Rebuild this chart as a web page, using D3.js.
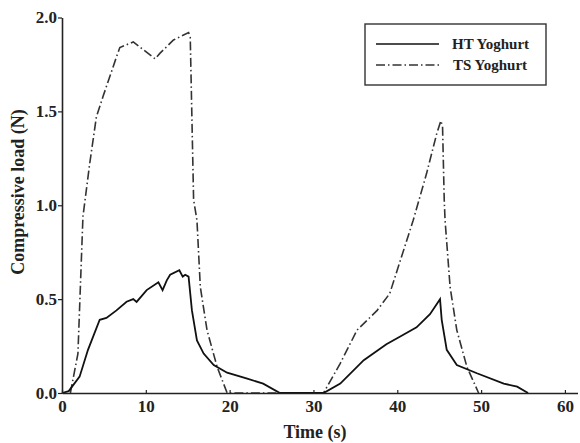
<!DOCTYPE html>
<html>
<head>
<meta charset="utf-8">
<script src="https://cdn.jsdelivr.net/npm/d3@7"></script>
<style>
  body { margin: 0; background: #fff; }
  svg { font-family: "Liberation Serif", "DejaVu Serif", serif; font-weight: bold; }
</style>
</head>
<body>
<div id="chart"></div>
<script>
// time (s) and load (N)
var htTime = [0, 0.8, 2.1, 3.1, 4.5, 5.3, 6.5, 7.7, 8.5, 8.9, 10.1, 11.5, 12.0, 12.5, 12.9, 14.0, 14.4, 14.7, 15.1,
    15.5, 16.1, 16.9, 18.1, 19.7, 22.0, 24.0, 26.0, 31.2, 33.2, 36.0, 38.7, 40.3, 42.3, 43.9, 45.1,
    45.3, 45.9, 47.1, 49.5, 52.7, 54.3, 55.6];
var htLoad = [0, 0.01, 0.087, 0.23, 0.39, 0.40, 0.44, 0.486, 0.50, 0.485, 0.548, 0.59, 0.548, 0.60, 0.63, 0.654, 0.62, 0.63, 0.62,
    0.44, 0.28, 0.21, 0.149, 0.108, 0.078, 0.05, 0, 0, 0.05, 0.175, 0.26, 0.30, 0.35, 0.42, 0.50,
    0.39, 0.23, 0.149, 0.105, 0.05, 0.034, 0];

var tsTime = [1.0, 1.9, 2.5, 3.3, 4.1, 4.9, 6.5, 6.9, 8.5, 11.1, 11.7, 13.3, 15.1, 15.3, 15.7, 16.1, 16.5, 17.3, 18.5, 19.7,
    31.2, 33.2, 35.2, 37.6, 39.1, 41.9, 43.5, 44.7, 45.2, 45.4, 45.6, 45.7, 46.3, 47.1, 48.3, 49.7];
var tsLoad = [0, 0.21, 0.94, 1.22, 1.47, 1.58, 1.79, 1.84, 1.87, 1.78, 1.81, 1.88, 1.92, 1.895, 1.03, 0.92, 0.565, 0.335, 0.14, 0,
    0, 0.158, 0.335, 0.44, 0.53, 0.92, 1.17, 1.38, 1.45, 1.42, 1.03, 0.92, 0.565, 0.335, 0.14, 0];

var xTicks = [0, 10, 20, 30, 40, 50, 60];
var yTicks = [0, 0.5, 1.0, 1.5, 2.0];
var seriesNames = ["HT Yoghurt", "TS Yoghurt"];

var width = 580, height = 443;
var svg = d3.select("#chart").append("svg")
    .attr("width", width)
    .attr("height", height);

var x = d3.scaleLinear().domain([0, 61.5]).range([62, 577.5]);
var y = d3.scaleLinear().domain([0, 2]).range([393, 17.5]);

var ht = htTime.map(function(t, i) { return [t, htLoad[i]]; });
var ts = tsTime.map(function(t, i) { return [t, tsLoad[i]]; });

var line = d3.line()
    .x(function(d) { return x(d[0]); })
    .y(function(d) { return y(d[1]); });

// curves
svg.append("path")
    .datum(ts)
    .attr("d", line)
    .attr("fill", "none")
    .attr("stroke", "#333")
    .attr("stroke-width", 1.6)
    .attr("stroke-dasharray", "9,3,1.5,3");

svg.append("path")
    .datum(ht)
    .attr("d", line)
    .attr("fill", "none")
    .attr("stroke", "#111")
    .attr("stroke-width", 1.8);

// axes
var xAxis = d3.axisBottom(x).tickValues(xTicks).tickSizeInner(-3).tickSizeOuter(0).tickPadding(7);
var yAxis = d3.axisLeft(y).tickValues(yTicks).tickSize(4).tickSizeOuter(0).tickPadding(1)
    .tickFormat(d3.format(".1f"));

var gx = svg.append("g").attr("transform", "translate(0," + y(0) + ")").call(xAxis);
var gy = svg.append("g").attr("transform", "translate(" + x(0) + ",0)").call(yAxis);

[gx, gy].forEach(function(g) {
    g.select(".domain").attr("stroke", "#222").attr("stroke-width", 1.6);
    g.selectAll(".tick line").attr("stroke", "#222").attr("stroke-width", 1.2);
    g.selectAll("text")
        .attr("fill", "#222")
        .style("font-size", "17px")
        .style("font-family", "'Liberation Serif', serif")
        .style("font-weight", "bold");
});

// axis titles
svg.append("text")
    .attr("x", 315)
    .attr("y", 438)
    .attr("text-anchor", "middle")
    .attr("fill", "#222")
    .style("font-size", "18px")
    .text("Time (s)");

svg.append("text")
    .attr("transform", "translate(24,192) rotate(-90)")
    .attr("text-anchor", "middle")
    .attr("fill", "#222")
    .style("font-size", "18px")
    .text("Compressive load (N)");

// legend
var legend = svg.append("g");
legend.append("rect")
    .attr("x", 365).attr("y", 24)
    .attr("width", 181).attr("height", 61)
    .attr("fill", "#fff")
    .attr("stroke", "#333")
    .attr("stroke-width", 1.4);

var legY = [44, 65];
seriesNames.forEach(function(name, i) {
    legend.append("line")
        .attr("x1", 376).attr("x2", 439)
        .attr("y1", legY[i]).attr("y2", legY[i])
        .attr("stroke", i == 0 ? "#111" : "#333")
        .attr("stroke-width", 1.5)
        .attr("stroke-dasharray", i == 0 ? null : "9,3,1.5,3");
    legend.append("text")
        .attr("x", 452 + i)
        .attr("y", legY[i] + 5)
        .attr("fill", "#222")
        .style("font-size", "15px")
        .text(name);
});
</script>
</body>
</html>
